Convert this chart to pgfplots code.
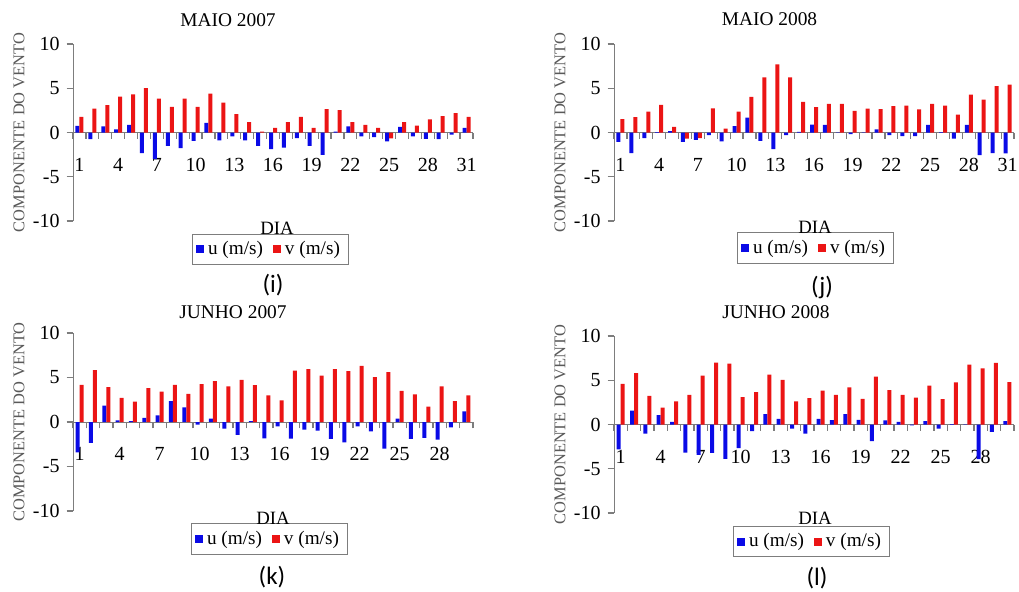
\documentclass[border=0pt]{standalone}
\usepackage{fontspec}
\setmainfont{Liberation Serif}
\newfontfamily\labfont{Carlito}
\usepackage{pgfplots}
\usepackage{pgfplotstable}
\pgfplotsset{compat=1.18}

\definecolor{ucol}{RGB}{10,10,230}
\definecolor{vcol}{RGB}{235,20,20}
\definecolor{axgray}{RGB}{125,125,125}

% day, u, v (m/s)
\pgfplotstableread{
day u v
1 0.75 1.77
2 -0.75 2.70
3 0.68 3.08
4 0.34 4.06
5 0.86 4.32
6 -2.33 5.00
7 -3.00 3.83
8 -1.50 2.90
9 -1.77 3.83
10 -0.94 2.90
11 1.09 4.40
12 -0.90 3.38
13 -0.45 2.07
14 -0.90 1.17
15 -1.50 0.11
16 -1.88 0.53
17 -1.72 1.17
18 -0.64 1.77
19 -1.50 0.53
20 -2.52 2.63
21 0.10 2.52
22 0.68 1.17
23 -0.45 0.86
24 -0.53 0.53
25 -1.00 -0.65
26 0.64 1.17
27 -0.45 0.79
28 -0.71 1.47
29 -0.75 1.84
30 -0.23 2.18
31 0.53 1.77
}\maioA

\pgfplotstableread{
day u v
1 -1.05 1.50
2 -2.33 1.73
3 -0.64 2.37
4 0.05 3.12
5 0.15 0.64
6 -1.05 -0.68
7 -0.83 -0.64
8 -0.30 2.74
9 -1.00 0.45
10 0.71 2.37
11 1.69 4.02
12 -0.94 6.24
13 -1.88 7.70
14 -0.30 6.24
15 0.07 3.46
16 0.90 2.86
17 0.86 3.23
18 -0.05 3.23
19 -0.19 2.44
20 0.02 2.70
21 0.34 2.63
22 -0.30 2.97
23 -0.41 3.05
24 -0.41 2.60
25 0.86 3.23
26 0.05 3.05
27 -0.68 2.03
28 0.86 4.29
29 -2.56 3.72
30 -2.33 5.23
31 -2.37 5.41
}\maioB

\pgfplotstableread{
day u v
1 -3.40 4.18
2 -2.35 5.82
3 1.83 3.92
4 0.19 2.72
5 0.10 2.28
6 0.45 3.80
7 0.75 3.40
8 2.35 4.18
9 1.64 3.17
10 -0.30 4.25
11 0.37 4.59
12 -0.75 3.99
13 -1.46 4.74
14 0.10 4.14
15 -1.83 2.99
16 -0.49 2.43
17 -1.87 5.78
18 -0.86 5.93
19 -0.97 5.22
20 -1.90 5.93
21 -2.28 5.71
22 -0.49 6.31
23 -1.04 5.04
24 -2.99 5.60
25 0.37 3.51
26 -1.90 3.10
27 -1.79 1.72
28 -1.98 3.99
29 -0.60 2.35
30 1.19 2.99
}\junhoA

\pgfplotstableread{
day u v
1 -2.82 4.58
2 1.56 5.80
3 -1.03 3.24
4 1.07 1.91
5 0.31 2.60
6 -3.17 3.36
7 -3.44 5.53
8 -3.20 6.98
9 -3.89 6.87
10 -2.67 3.09
11 -0.76 3.66
12 1.18 5.65
13 0.65 5.04
14 -0.46 2.60
15 -1.03 2.98
16 0.65 3.82
17 0.50 3.36
18 1.18 4.20
19 0.53 2.90
20 -1.87 5.42
21 0.46 3.89
22 0.31 3.36
23 -0.10 3.05
24 0.38 4.39
25 -0.46 2.86
26 0.05 4.77
27 0.02 6.76
28 -3.90 6.34
29 -0.84 6.95
30 0.38 4.80
}\junhoB

\pgfplotsset{
  vento/.style={
    scale only axis, width=200pt, height=88.5pt,
    anchor=south west,
    ymin=-10, ymax=10, xmin=0.5,
    axis y line=left, axis x line=middle,
    axis line style={axgray,-},
    every inner x axis line/.append style={-},
    every outer y axis line/.append style={-},
    hide obscured x ticks=false, hide obscured y ticks=false,
    ytick={-10,-5,0,5,10},
    yticklabels={-10,-5,0,5,10},
    tick style={axgray, semithick},
    tick align=outside,
    major tick length=3.2pt,
    tick label style={font=\fontsize{10}{12}\selectfont},
    ylabel={COMPONENTE DO VENTO},
    ylabel style={at={(axis description cs:-0.135,0.5)}, anchor=center,
      font=\fontsize{8.2}{10}\selectfont, text=black!65},
    ybar=0pt, bar width=2pt,
    legend columns=2,
    legend style={draw=axgray, anchor=center, font=\fontsize{9.6}{11}\selectfont,
      inner xsep=2pt, inner ysep=1.5pt,
      /tikz/every even column/.append style={column sep=3pt}},
    legend image code/.code={\fill[##1] (0pt,-2pt) rectangle (4pt,2pt);},
  },
  % ticks sit between days; each label is moved back half a day
  mes31/.style={xmax=31.5, xtick={0.5,1.5,...,31.5},
    xticklabels={,1,,,4,,,7,,,10,,,13,,,16,,,19,,,22,,,25,,,28,,,31},
    xticklabel style={xshift=-3.23pt, yshift=-6pt}},
  mes30/.style={xmax=30.5, xtick={0.5,1.5,...,30.5},
    xticklabels={,1,,,4,,,7,,,10,,,13,,,16,,,19,,,22,,,25,,,28,,},
    xticklabel style={xshift=-3.33pt, yshift=-6pt}},
}

\begin{document}
\begin{tikzpicture}
\path[use as bounding box] (0,0) rectangle (509.5pt,295.5pt);

% (i) MAIO 2007
\begin{axis}[vento, mes31, at={(36.5pt,185pt)},
  legend style={at={(axis description cs:0.4925,-0.161)}}]
\addplot[fill=ucol, draw=none] table[x=day, y=u] {\maioA};
\addplot[fill=vcol, draw=none] table[x=day, y=v] {\maioA};
\legend{u (m/s), v (m/s)}
\end{axis}

% (j) MAIO 2008
\begin{axis}[vento, mes31, at={(307pt,185pt)},
  legend style={at={(axis description cs:0.5025,-0.1525)}}]
\addplot[fill=ucol, draw=none] table[x=day, y=u] {\maioB};
\addplot[fill=vcol, draw=none] table[x=day, y=v] {\maioB};
\legend{u (m/s), v (m/s)}
\end{axis}

% (k) JUNHO 2007
\begin{axis}[vento, mes30, at={(36.5pt,40pt)}, height=89pt,
  legend style={at={(axis description cs:0.49,-0.157)}}]
\addplot[fill=ucol, draw=none] table[x=day, y=u] {\junhoA};
\addplot[fill=vcol, draw=none] table[x=day, y=v] {\junhoA};
\legend{u (m/s), v (m/s)}
\end{axis}

% (l) JUNHO 2008
\begin{axis}[vento, mes30, at={(307pt,39pt)},
  legend style={at={(axis description cs:0.4925,-0.161)}}]
\addplot[fill=ucol, draw=none] table[x=day, y=u] {\junhoB};
\addplot[fill=vcol, draw=none] table[x=day, y=v] {\junhoB};
\legend{u (m/s), v (m/s)}
\end{axis}

\begin{scope}[every node/.style={inner sep=0pt, anchor=center}]
\node[font=\fontsize{9.7}{11}\selectfont] at (114pt,285.5pt) {MAIO 2007};
\node[font=\fontsize{9.7}{11}\selectfont] at (384.75pt,286pt) {MAIO 2008};
\node[font=\fontsize{9.7}{11}\selectfont] at (116.5pt,139.5pt) {JUNHO 2007};
\node[font=\fontsize{9.7}{11}\selectfont] at (388pt,139.5pt) {JUNHO 2008};
\node[font=\fontsize{9.4}{11}\selectfont] at (138.5pt,181.25pt) {DIA};
\node[font=\fontsize{9.4}{11}\selectfont] at (407.5pt,182pt) {DIA};
\node[font=\fontsize{9.4}{11}\selectfont] at (136.5pt,36.5pt) {DIA};
\node[font=\fontsize{9.4}{11}\selectfont] at (407.5pt,36.5pt) {DIA};
\node[font=\labfont\fontsize{12.5}{14}\selectfont] at (136.5pt,153pt) {(i)};
\node[font=\labfont\fontsize{12.5}{14}\selectfont] at (411pt,152pt) {(j)};
\node[font=\labfont\fontsize{12.5}{14}\selectfont] at (136pt,7pt) {(k)};
\node[font=\labfont\fontsize{12.5}{14}\selectfont] at (408.5pt,6.5pt) {(l)};
\end{scope}
\end{tikzpicture}
\end{document}
